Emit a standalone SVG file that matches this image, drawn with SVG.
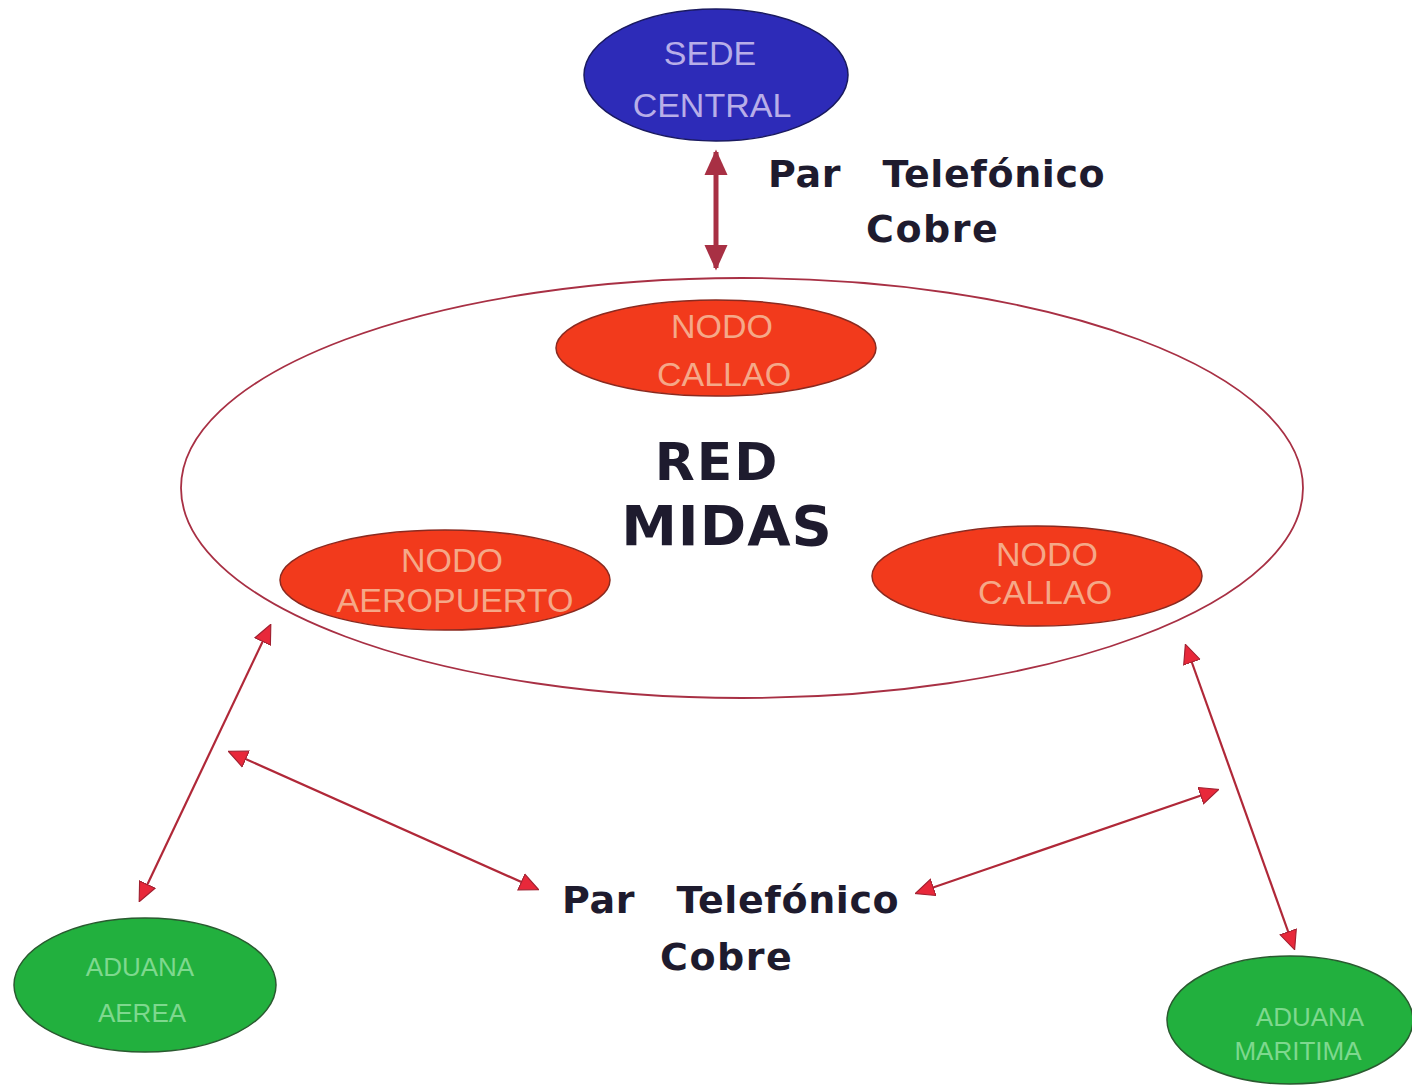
<svg xmlns="http://www.w3.org/2000/svg" width="1412" height="1086" viewBox="0 0 1412 1086">
<style>
.lbl{font-family:"DejaVu Sans","Liberation Sans",Arial,sans-serif;font-weight:bold;fill:#1e1b2e;}
.nt{font-family:"Liberation Sans",Arial,sans-serif;text-anchor:middle;}
.red{fill:#f23a1c;stroke:#8a2a20;stroke-width:1.5;}
.green{fill:#22b03e;stroke:#2a5a30;stroke-width:1.5;}
.conn{stroke:#b02838;stroke-width:2.2;fill:none;}
</style>
<defs>
<marker id="ah" viewBox="0 0 10 10" refX="9" refY="5" markerWidth="20" markerHeight="19" markerUnits="userSpaceOnUse" orient="auto-start-reverse">
<path d="M0,0.5 L10,5 L0,9.5 z" fill="#e8283a" stroke="#a02030" stroke-width="0.6"/>
</marker>
<marker id="ahb" viewBox="0 0 10 10" refX="9" refY="5" markerWidth="26" markerHeight="26" markerUnits="userSpaceOnUse" orient="auto-start-reverse">
<path d="M0,0.5 L10,5 L0,9.5 z" fill="#a83044"/>
</marker>
</defs>
<rect width="1412" height="1086" fill="#ffffff"/>
<g id="red-midas">
<ellipse cx="742" cy="488" rx="561" ry="210" fill="none" stroke="#a83044" stroke-width="1.8"/>
<text class="lbl" x="717" y="480" font-size="52" letter-spacing="2" text-anchor="middle">RED</text>
<text class="lbl" x="727" y="545" font-size="56" letter-spacing="1" text-anchor="middle">MIDAS</text>
</g>
<g id="sede-central">
<ellipse cx="716" cy="75" rx="132" ry="66" fill="#2d2bb8" stroke="#1a1a60" stroke-width="1.5"/>
<text class="nt" x="710" y="65" font-size="34" fill="#b8aee8">SEDE</text>
<text class="nt" x="712" y="117" font-size="34" fill="#b8aee8">CENTRAL</text>
</g>
<g id="nodo-callao-top">
<ellipse class="red" cx="716" cy="348" rx="160" ry="48"/>
<text class="nt" x="722" y="338" font-size="34" fill="#f5a888">NODO</text>
<text class="nt" x="724" y="386" font-size="34" fill="#f5a888">CALLAO</text>
</g>
<g id="nodo-aeropuerto">
<ellipse class="red" cx="445" cy="580" rx="165" ry="50"/>
<text class="nt" x="452" y="572" font-size="34" fill="#f5a888">NODO</text>
<text class="nt" x="455" y="612" font-size="34" fill="#f5a888">AEROPUERTO</text>
</g>
<g id="nodo-callao-right">
<ellipse class="red" cx="1037" cy="576" rx="165" ry="50"/>
<text class="nt" x="1047" y="566" font-size="34" fill="#f5a888">NODO</text>
<text class="nt" x="1045" y="604" font-size="34" fill="#f5a888">CALLAO</text>
</g>
<g id="aduana-aerea">
<ellipse class="green" cx="145" cy="985" rx="131" ry="67"/>
<text class="nt" x="140" y="976" font-size="26" fill="#7ed88e">ADUANA</text>
<text class="nt" x="142" y="1022" font-size="26" fill="#7ed88e">AEREA</text>
</g>
<g id="aduana-maritima">
<ellipse class="green" cx="1290" cy="1020" rx="123" ry="64"/>
<text class="nt" x="1310" y="1026" font-size="26" fill="#7ed88e">ADUANA</text>
<text class="nt" x="1298" y="1060" font-size="26" fill="#7ed88e">MARITIMA</text>
</g>
<g id="connectors">
<line x1="716" y1="152" x2="716" y2="268" stroke="#a83044" stroke-width="5" marker-start="url(#ahb)" marker-end="url(#ahb)"/>
<line class="conn" x1="270" y1="626" x2="140" y2="900" marker-start="url(#ah)" marker-end="url(#ah)"/>
<line class="conn" x1="230" y1="752" x2="537" y2="889" marker-start="url(#ah)" marker-end="url(#ah)"/>
<line class="conn" x1="1186" y1="646" x2="1294" y2="948" marker-start="url(#ah)" marker-end="url(#ah)"/>
<line class="conn" x1="1217" y1="790" x2="917" y2="893" marker-start="url(#ah)" marker-end="url(#ah)"/>
</g>
<g id="labels">
<text class="lbl" x="768" y="187" font-size="38" letter-spacing="0.6" xml:space="preserve">Par   Telefónico</text>
<text class="lbl" x="866" y="242" font-size="38" letter-spacing="1.5">Cobre</text>
<text class="lbl" x="562" y="913" font-size="38" letter-spacing="0.6" xml:space="preserve">Par   Telefónico</text>
<text class="lbl" x="660" y="970" font-size="38" letter-spacing="1.5">Cobre</text>
</g>
</svg>
